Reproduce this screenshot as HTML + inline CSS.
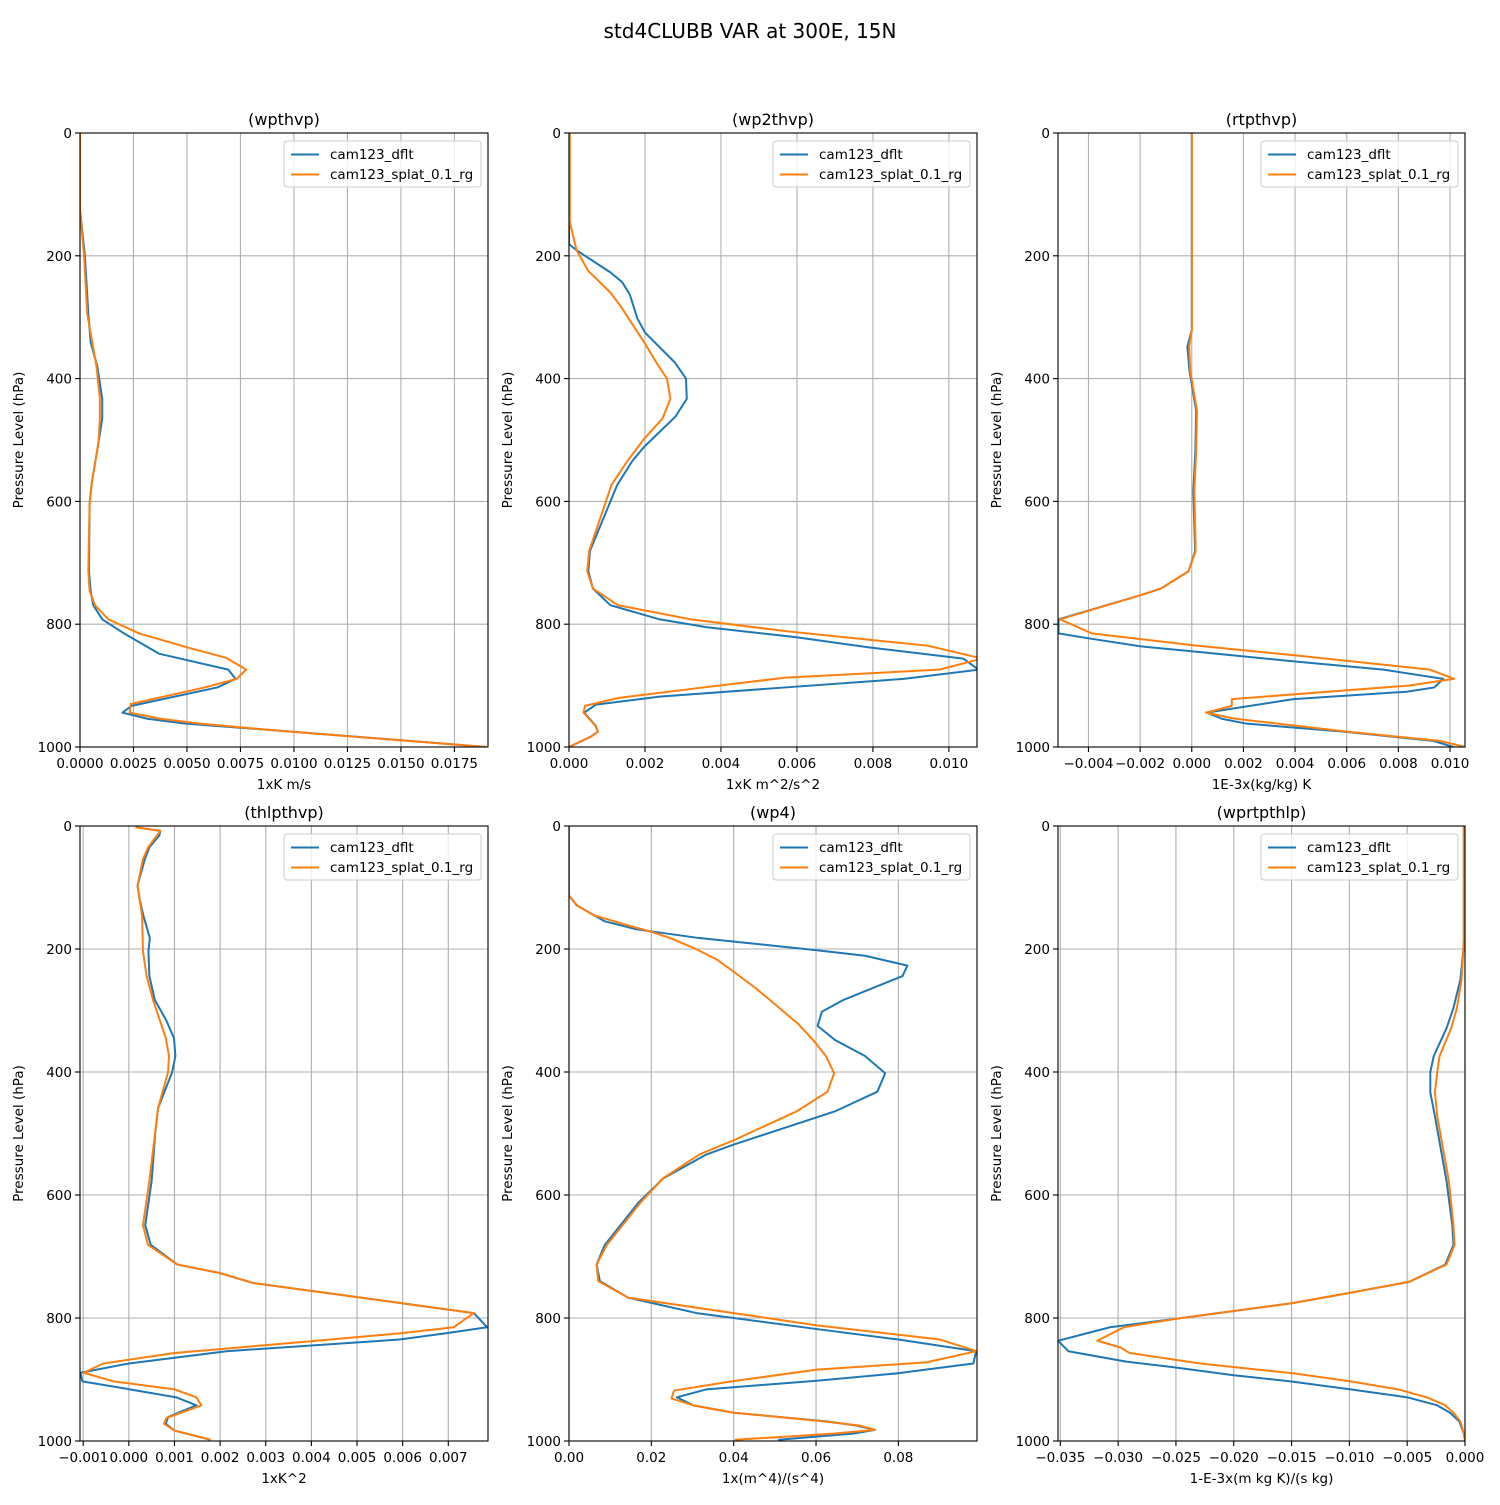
<!DOCTYPE html>
<html><head><meta charset="utf-8"><style>
html,body{margin:0;padding:0;background:#fff;}
svg text{font-family:"DejaVu Sans","Liberation Sans",sans-serif;fill:#000;}
</style></head><body>
<svg id="fig" width="1500" height="1500" viewBox="0 0 1500 1500" xmlns="http://www.w3.org/2000/svg">
<rect width="1500" height="1500" fill="#fff"/>
<text x="750" y="38" text-anchor="middle" font-size="20">std4CLUBB VAR at 300E, 15N</text>
</svg>
<script>
// ---- Panel 1: wpthvp ----
const p1DfltP = [0,125,200,295,341,380,433,465,505,570,603,714,746,769,792,815,848,874,889,903,933,944,954,962,975,1000];
const p1DfltV = [0,0,0.00023,0.00039,0.0005,0.00081,0.00104,0.00104,0.00086,0.00055,0.00045,0.00042,0.0005,0.00062,0.00104,0.00206,0.00369,0.00693,0.00727,0.00642,0.00241,0.00198,0.00315,0.00494,0.0099,0.019];
const p1SplatP = [0,125,200,295,380,433,465,505,570,603,714,746,769,792,815,837,855,874,889,903,930,944,954,962,975,1000];
const p1SplatV = [0,0,0.00019,0.00034,0.00077,0.00093,0.00093,0.00086,0.00055,0.00045,0.00039,0.00045,0.0007,0.00132,0.00276,0.00494,0.00685,0.00777,0.00732,0.00583,0.00237,0.00232,0.00377,0.0056,0.0098,0.019];
// ---- Panel 2: wp2thvp ----
const p2DfltP = [0,171,181,191,227,243,263,302,325,374,400,433,462,511,534,573,681,714,742,769,792,805,821,838,856,874,889,903,918,931,944,965,975,983,1000];
const p2DfltV = [0,0,0,0.0002,0.00109,0.0014,0.0016,0.0018,0.002,0.00279,0.00308,0.0031,0.0028,0.00198,0.00167,0.00127,0.00055,0.00051,0.00063,0.00109,0.00238,0.00363,0.00596,0.00792,0.01038,0.01078,0.00881,0.00569,0.00238,0.00071,0.0004,0.0007,0.00076,0.00058,0];
const p2SplatP = [0,145,191,224,260,282,341,374,400,433,465,498,534,573,681,714,742,769,792,812,835,856,874,887,903,920,933,944,965,975,983,1000];
const p2SplatV = [0.00002,0.00002,0.0002,0.0005,0.00109,0.00136,0.00198,0.0023,0.00258,0.00267,0.00246,0.00198,0.00154,0.00112,0.00053,0.00048,0.00063,0.00129,0.00319,0.0058,0.00944,0.01087,0.00975,0.0057,0.00354,0.00131,0.00042,0.00038,0.00069,0.00076,0.00058,0];
// ---- Panel 3: rtpthvp ----
const p3DfltP = [0,321,348,387,452,518,583,681,714,742,753,792,815,823,836,844,861,874,889,903,910,922,944,954,962,975,990,1000];
const p3DfltV = [0,0,-0.00017,-0.00009,0.00017,0.00014,0.00006,0.00013,-0.00013,-0.0012,-0.002,-0.00516,-0.00516,-0.004,-0.002,0,0.00406,0.00742,0.00974,0.00939,0.00832,0.00394,0.00058,0.00116,0.00213,0.00587,0.00935,0.01013];
const p3SplatP = [0,321,348,387,452,518,583,681,714,742,753,792,815,834,851,874,889,900,922,933,944,954,975,990,1000];
const p3SplatV = [0,0,-0.0001,-0.00006,0.0002,0.00017,0.0001,0.00015,-0.00013,-0.0012,-0.002,-0.0051,-0.00387,0,0.00406,0.00923,0.01015,0.00839,0.00155,0.00155,0.00055,0.00168,0.00600,0.00961,0.01058];
// ---- Panel 4: thlpthvp ----
const p4DfltP = [2,8,15,35,54,97,120,146,182,204,244,283,316,345,374,400,459,498,577,649,681,713,727,743,792,815,824,835,854,874,889,903,916,929,942,961,972,983,998];
const p4DfltV = [0.00015,0.00069,0.00067,0.00045,0.00035,0.00019,0.00024,0.00032,0.00046,0.00043,0.00045,0.00057,0.00082,0.00099,0.00102,0.00095,0.00064,0.00058,0.0005,0.00036,0.00048,0.00106,0.002,0.00272,0.00756,0.00785,0.00703,0.00593,0.00214,0,-0.00106,-0.00102,0.00002,0.00104,0.00148,0.00086,0.00081,0.001,0.00179];
const p4SplatP = [2,8,35,54,97,146,204,244,283,316,345,374,400,459,577,649,681,713,727,743,792,815,825,838,857,874,889,903,916,929,942,963,972,983,998];
const p4SplatV = [0.00015,0.00069,0.00042,0.00031,0.00019,0.00029,0.00031,0.00039,0.00053,0.00068,0.00081,0.00088,0.00086,0.00064,0.00045,0.00031,0.00042,0.00106,0.002,0.00272,0.00756,0.00712,0.00593,0.00396,0.001,-0.00056,-0.00099,-0.00034,0.001,0.00148,0.00159,0.00082,0.00077,0.001,0.00179];
// ---- Panel 5: wp4 ----
const p5DfltP = [0,113,129,155,168,182,202,211,227,244,283,302,325,348,374,402,432,464,518,534,573,613,681,713,740,767,792,818,835,854,874,890,902,916,929,942,954,968,975,982,988,998];
const p5DfltV = [0,0,0.0019,0.0087,0.0164,0.0314,0.0602,0.0719,0.0822,0.081,0.0666,0.0614,0.0604,0.0646,0.0719,0.0768,0.0749,0.0646,0.04,0.0334,0.0229,0.0168,0.0087,0.0067,0.0075,0.0144,0.031,0.0602,0.08,0.0989,0.0982,0.0796,0.0602,0.0334,0.0262,0.0302,0.04,0.0626,0.0699,0.0743,0.069,0.0508];
const p5SplatP = [0,113,129,145,161,172,182,198,217,237,263,283,322,348,374,402,432,464,511,534,573,613,681,713,740,767,792,812,835,854,872,884,903,918,931,942,954,968,975,982,988,998];
const p5SplatV = [0,0,0.0019,0.006,0.014,0.02,0.0245,0.0302,0.0359,0.04,0.0452,0.0488,0.0557,0.0593,0.0624,0.0644,0.0628,0.0553,0.04,0.0317,0.0228,0.0173,0.0092,0.0067,0.0071,0.0144,0.04,0.0602,0.0901,0.099,0.0869,0.0602,0.0395,0.0255,0.0249,0.0302,0.04,0.0618,0.0707,0.0743,0.0642,0.0403];
// ---- Panel 6: wprtpthlp ----
const p6DfltP = [0,185,201,250,296,329,374,400,433,472,577,649,681,713,741,760,776,801,815,837,854,871,880,893,903,916,929,942,954,968,988,1000];
const p6DfltV = [-0.0001,-0.0001,-0.00014,-0.0004,-0.001,-0.0016,-0.0027,-0.003,-0.003,-0.0026,-0.0016,-0.0011,-0.001,-0.0017,-0.0048,-0.0102,-0.015,-0.0249,-0.0307,-0.0352,-0.0343,-0.0293,-0.0252,-0.02,-0.0151,-0.0099,-0.005,-0.0024,-0.0013,-0.0005,-0.0001,0];
const p6SplatP = [0,185,250,296,329,374,400,433,472,577,649,681,713,741,760,776,801,815,837,848,857,874,890,903,916,929,942,954,968,988,1000];
const p6SplatV = [-0.0001,-0.0001,-0.0003,-0.0007,-0.0012,-0.0022,-0.0024,-0.0026,-0.0024,-0.0014,-0.001,-0.0009,-0.0016,-0.0048,-0.0102,-0.015,-0.0249,-0.0295,-0.0318,-0.0298,-0.029,-0.0229,-0.0148,-0.0099,-0.0058,-0.0033,-0.0017,-0.001,-0.0004,-0.0001,0];

const p1Ticks = ["0.0000","0.0025","0.0050","0.0075","0.0100","0.0125","0.0150","0.0175"];
const p2Ticks = ["0.000","0.002","0.004","0.006","0.008","0.010"];
const p3Ticks = ["-0.004","-0.002","0.000","0.002","0.004","0.006","0.008","0.010"];
const p4Ticks = ["-0.001","0.000","0.001","0.002","0.003","0.004","0.005","0.006","0.007"];
const p5Ticks = ["0.00","0.02","0.04","0.06","0.08"];
const p6Ticks = ["-0.035","-0.030","-0.025","-0.020","-0.015","-0.010","-0.005","0.000"];
const yTicks = [0,200,400,600,800,1000];

const NS = "http://www.w3.org/2000/svg";
const fig = document.getElementById('fig');
function mk(tag, attrs, parent){const e=document.createElementNS(NS,tag);for(const k in attrs)e.setAttribute(k,attrs[k]);(parent||fig).appendChild(e);return e;}

const panels = [
 {key:'wpthvp', x:80, y:133, w:408, h:614, xmin:0, xmax:0.01907, ticks:p1Ticks, xl:'1xK m/s', s:[[p1DfltP,p1DfltV],[p1SplatP,p1SplatV]]},
 {key:'wp2thvp', x:569, y:133, w:408, h:614, xmin:0, xmax:0.01074, ticks:p2Ticks, xl:'1xK m^2/s^2', s:[[p2DfltP,p2DfltV],[p2SplatP,p2SplatV]]},
 {key:'rtpthvp', x:1058, y:133, w:407, h:614, xmin:-0.00518, xmax:0.01058, ticks:p3Ticks, xl:'1E-3x(kg/kg) K', s:[[p3DfltP,p3DfltV],[p3SplatP,p3SplatV]]},
 {key:'thlpthvp', x:80, y:826, w:408, h:615, xmin:-0.00107, xmax:0.00787, ticks:p4Ticks, xl:'1xK^2', s:[[p4DfltP,p4DfltV],[p4SplatP,p4SplatV]]},
 {key:'wp4', x:569, y:826, w:408, h:615, xmin:0, xmax:0.0991, ticks:p5Ticks, xl:'1x(m^4)/(s^4)', s:[[p5DfltP,p5DfltV],[p5SplatP,p5SplatV]]},
 {key:'wprtpthlp', x:1058, y:826, w:407, h:615, xmin:-0.0352, xmax:0, ticks:p6Ticks, xl:'1-E-3x(m kg K)/(s kg)', s:[[p6DfltP,p6DfltV],[p6SplatP,p6SplatV]]}
];
const colors = ['#1f77b4','#ff7f0e'];
const names = ['cam123_dflt','cam123_splat_0.1_rg'];

panels.forEach(P=>{
  const g = mk('g',{});
  
  
  const sx = v => P.x + (v-P.xmin)/(P.xmax-P.xmin)*P.w;
  const sy = p => P.y + p/1000*P.h;
  const clipId = 'clip-'+P.key;
  const cp = mk('clipPath',{id:clipId},g); mk('rect',{x:P.x,y:P.y,width:P.w,height:P.h},cp);
  yTicks.forEach(t=>{
    const y = sy(t);
    const gl = mk('line',{x1:P.x,x2:P.x+P.w,y1:y,y2:y,stroke:'#b0b0b0','stroke-width':1.1},g);
    
    
    mk('line',{x1:P.x-5,x2:P.x,y1:y,y2:y,stroke:'#000','stroke-width':1.1},g);
    const tx = mk('text',{x:P.x-8,y:y+5,'text-anchor':'end','font-size':13.5},g);
    tx.textContent = t;
    
    
  });
  P.ticks.forEach(lbl=>{
    const v = parseFloat(lbl);
    const x = sx(v);
    const gl = mk('line',{x1:x,x2:x,y1:P.y,y2:P.y+P.h,stroke:'#b0b0b0','stroke-width':1.1},g);
    
    
    mk('line',{x1:x,x2:x,y1:P.y+P.h,y2:P.y+P.h+5,stroke:'#000','stroke-width':1.1},g);
    const tx = mk('text',{x:x,y:P.y+P.h+21,'text-anchor':'middle','font-size':13.5},g);
    tx.textContent = lbl.replace('-','\u2212');
    
    
  });
  P.s.forEach((ser,i)=>{
    const [ps,vs]=ser;
    const d = ps.map((p,j)=>(j?'L':'M')+sx(vs[j]).toFixed(2)+','+sy(p).toFixed(2)).join(' ');
    const path = mk('path',{d:d,fill:'none',stroke:colors[i],'stroke-width':2,'stroke-linejoin':'round','clip-path':'url(#'+clipId+')'},g);
    
    
  });
  const fr = mk('rect',{x:P.x,y:P.y,width:P.w,height:P.h,fill:'none',stroke:'#000','stroke-width':1.1},g);
  
  
  const tt = mk('text',{x:P.x+P.w/2,y:P.y-8,'text-anchor':'middle','font-size':16},g);
  tt.textContent = '('+P.key+')';
  
  
  const xl = mk('text',{x:P.x+P.w/2,y:P.y+P.h+42,'text-anchor':'middle','font-size':13.5},g);
  xl.textContent = P.xl;
  
  
  const yx = P.x-57, yy = P.y+P.h/2;
  const yl = mk('text',{x:yx,y:yy,'text-anchor':'middle','font-size':13.5,transform:'rotate(-90 '+yx+' '+yy+')'},g);
  yl.textContent = 'Pressure Level (hPa)';
  
  
  const lg = mk('g',{},g);
  
  
  const lx = P.x+P.w-204, ly = P.y+8;
  mk('rect',{x:lx,y:ly,width:197,height:46,rx:3,fill:'#fff','fill-opacity':0.8,stroke:'#cccccc','stroke-width':1},lg);
  names.forEach((n,i)=>{
    const yy2 = ly+13+i*20;
    const ln = mk('line',{x1:lx+7,x2:lx+35,y1:yy2+0.5,y2:yy2+0.5,stroke:colors[i],'stroke-width':2},lg);
    
    
    const t = mk('text',{x:lx+46,y:yy2+5,'font-size':13.5},lg);
    t.textContent = n;
    
    
  });
});
</script>
</body></html>
